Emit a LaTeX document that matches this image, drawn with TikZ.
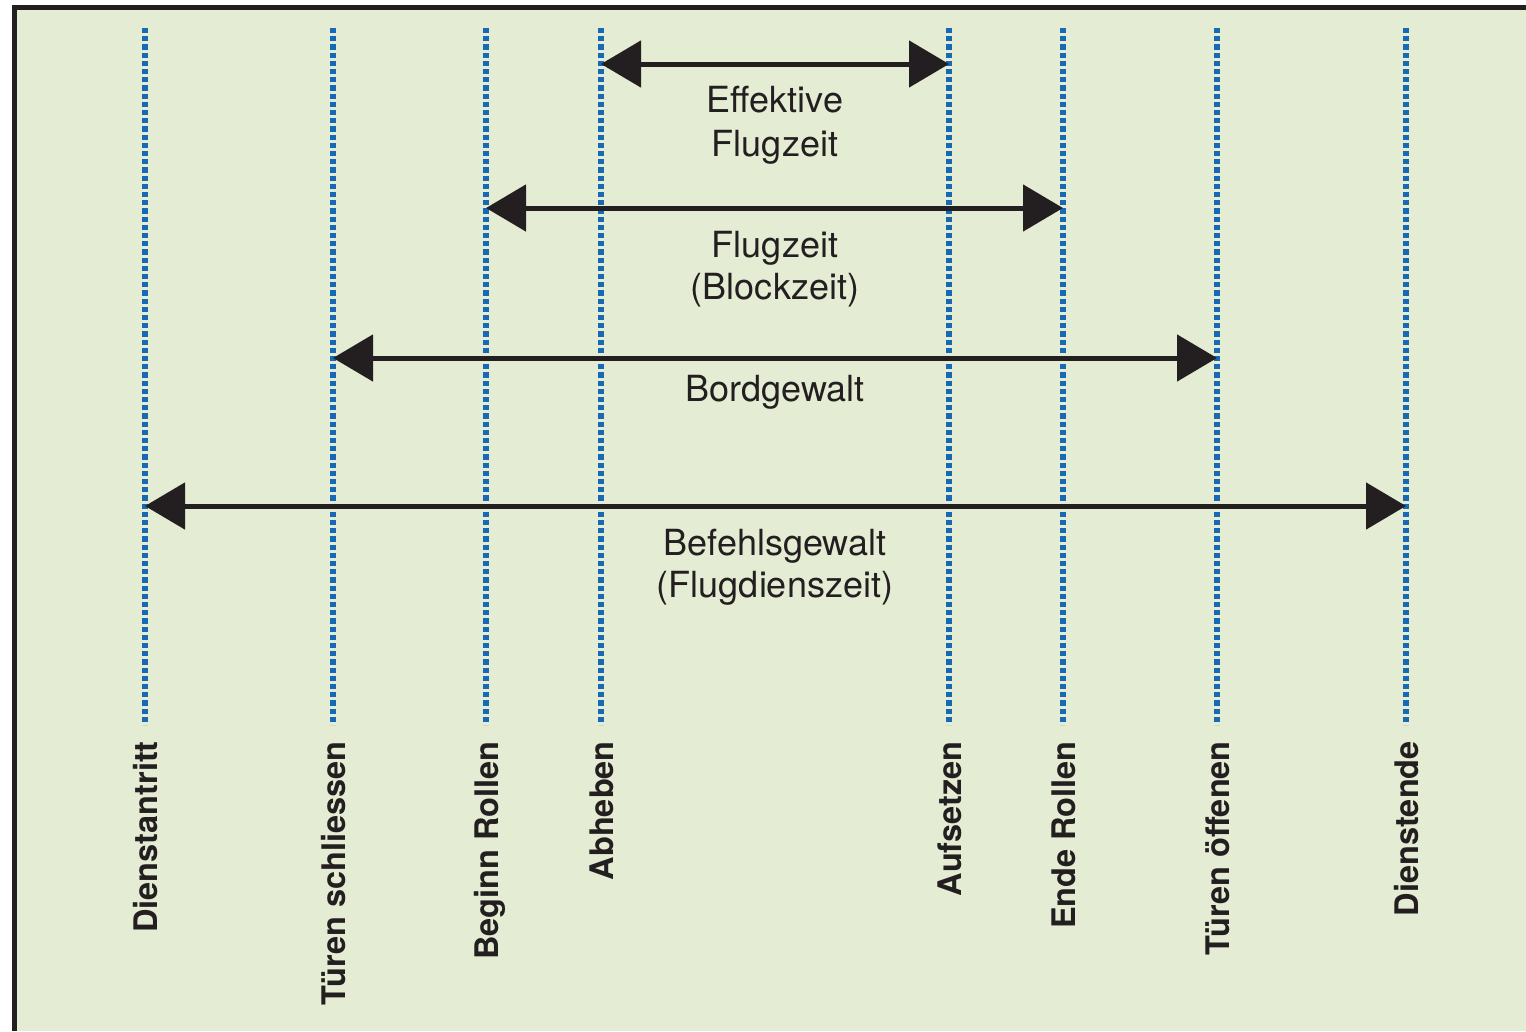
\documentclass[tikz,border=0pt]{standalone}
\usepackage{fontspec}
\setmainfont{TeX Gyre Heros}
\usetikzlibrary{arrows.meta}
\definecolor{bggreen}{HTML}{E4EDD3}
\definecolor{dotblue}{HTML}{1769B5}
\definecolor{inkblack}{HTML}{231F20}
\tikzset{
  vline/.style={dotblue, line width=5.2pt, dash pattern=on 5.2pt off 3pt},
  span/.style={inkblack, line width=5pt, {Triangle[length=40pt,width=46pt]}-{Triangle[length=40pt,width=46pt]}},
  spanlabel/.style={inkblack, font=\fontsize{36}{43}\selectfont, anchor=base, inner sep=0pt},
  eventlabel/.style={inkblack, font=\fontsize{32.5}{38}\selectfont\bfseries, rotate=90, anchor=base east, inner sep=0pt},
  frameline/.style={inkblack, line width=5pt}
}
\begin{document}
\begin{tikzpicture}[x=1pt,y=-1pt]
\useasboundingbox (0,0) rectangle (1526,1031);
\fill[white] (0,0) rectangle (1526,1031);
\fill[bggreen] (14.5,7.5) rectangle (1526,1031);
\draw[frameline] (14.5,1031) -- (14.5,7.5) -- (1526,7.5);
% event lines
\foreach \n/\x in {1/145,2/333,3/486,4/601,5/949,6/1063,7/1217,8/1406}{
  \coordinate (t\n) at (\x,28);
  \coordinate (b\n) at (\x,725);
  \draw[vline] (t\n) -- (b\n);
}
% arrow end points
\coordinate (a1l) at (601,64);  \coordinate (a1r) at (949,64);
\coordinate (a2l) at (486,208); \coordinate (a2r) at (1063,208);
\coordinate (a3l) at (333,358); \coordinate (a3r) at (1217,358);
\coordinate (a4l) at (145,506); \coordinate (a4r) at (1406,506);
\draw[span] (a1l) -- (a1r);
\draw[span] (a2l) -- (a2r);
\draw[span] (a3l) -- (a3r);
\draw[span] (a4l) -- (a4r);
% span labels
\node[spanlabel] (l1a) at (775,112) {Effektive};
\node[spanlabel] (l1b) at (775,156) {Flugzeit};
\node[spanlabel] (l2a) at (775,257) {Flugzeit};
\node[spanlabel] (l2b) at (775,299) {(Blockzeit)};
\node[spanlabel] (l3a) at (775,401) {Bordgewalt};
\node[spanlabel] (l4a) at (775,555) {Befehlsgewalt};
\node[spanlabel] (l4b) at (775,597) {(Flugdienszeit)};
% event labels
\node[eventlabel] (e1) at (157,741) {Dienstantritt};
\node[eventlabel] (e2) at (345,741) {Türen schliessen};
\node[eventlabel] (e3) at (498,741) {Beginn Rollen};
\node[eventlabel] (e4) at (613,741) {Abheben};
\node[eventlabel] (e5) at (961,741) {Aufsetzen};
\node[eventlabel] (e6) at (1075,741) {Ende Rollen};
\node[eventlabel] (e7) at (1229,741) {Türen öffenen};
\node[eventlabel] (e8) at (1418,741) {Dienstende};
\end{tikzpicture}
\end{document}
